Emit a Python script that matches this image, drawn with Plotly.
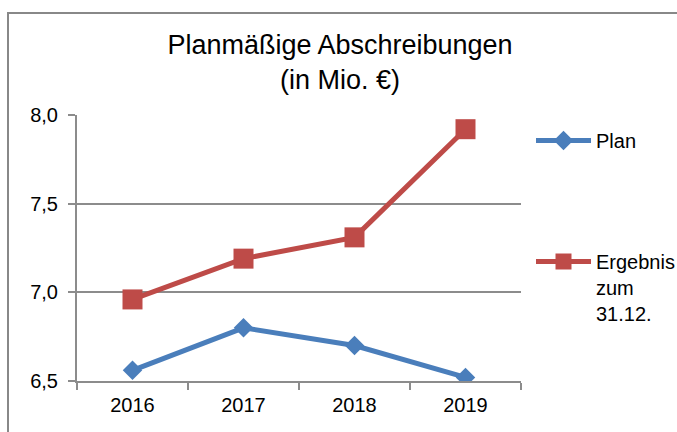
import plotly.graph_objects as go

years = ["2016", "2017", "2018", "2019"]
plan = [6.56, 6.80, 6.70, 6.52]
ergebnis = [6.96, 7.19, 7.31, 7.92]
series_names = ["Plan", "Ergebnis<br>zum<br>31.12."]
y_ticks = [6.5, 7.0, 7.5, 8.0]
title_text = "Planmäßige Abschreibungen<br>(in Mio. €)"

W, H = 677, 432
L, R, T, B = 77, 521, 115, 381
pw, ph = R - L, B - T

def px_x(x):
    return (x - L) / pw

def px_y(y):
    return (B - y) / ph

FONT = "Liberation Sans, Arial, sans-serif"
BLUE = "#4A7EBB"
RED = "#BE4B48"
GRID = "#8C8C8C"

fig = go.Figure()
fig.add_trace(go.Scatter(
    x=years, y=plan, name=series_names[0], mode="lines+markers",
    line=dict(color=BLUE, width=5),
    marker=dict(symbol="diamond", size=15, color=BLUE),
    legend="legend",
))
fig.add_trace(go.Scatter(
    x=years, y=ergebnis, name=series_names[1], mode="lines+markers",
    line=dict(color=RED, width=5),
    marker=dict(symbol="square", size=20, color=RED),
    legend="legend2",
))

fig.update_layout(
    width=W, height=H,
    margin=dict(l=L, r=W - R, t=T, b=H - B, autoexpand=False),
    paper_bgcolor="white", plot_bgcolor="white",
    separators=",.",
    showlegend=True,
    font=dict(family=FONT, size=20, color="black"),
    title=dict(text=title_text, x=340 / W, xanchor="center", xref="container",
               y=1 - 54 / H, yanchor="top", yref="container",
               font=dict(family=FONT, size=27, color="black")),
    xaxis=dict(type="category", range=[-0.5, 3.5], tickson="boundaries",
               ticks="outside", ticklen=7, tickwidth=2, tickcolor=GRID,
               showline=True, linecolor=GRID, linewidth=2,
               showgrid=False, zeroline=False, ticklabelstandoff=5,
               tickfont=dict(family=FONT, size=20, color="black")),
    yaxis=dict(range=[6.5, 8.0], tickvals=y_ticks, tickformat=".1f",
               ticks="outside", ticklen=7, tickwidth=2, tickcolor=GRID,
               showline=True, linecolor=GRID, linewidth=2,
               showgrid=True, gridcolor=GRID, gridwidth=2, zeroline=False,
               ticklabelstandoff=6,
               tickfont=dict(family=FONT, size=20, color="black")),
    legend=dict(x=px_x(531), xanchor="left", y=px_y(121), yanchor="top",
                itemwidth=55, font=dict(family=FONT, size=20, color="black"),
                bgcolor="rgba(0,0,0,0)"),
    legend2=dict(x=px_x(531), xanchor="left", y=px_y(242), yanchor="top",
                 itemwidth=55, valign="top",
                 font=dict(family=FONT, size=20, color="black"),
                 bgcolor="rgba(0,0,0,0)"),
    shapes=[dict(type="rect", xref="paper", yref="paper",
                 x0=px_x(8), x1=px_x(720), y0=px_y(470), y1=px_y(13),
                 line=dict(color="#888888", width=2), fillcolor="rgba(0,0,0,0)",
                 layer="below")],
)

fig.write_html("out.html", config={"displayModeBar": False},
               post_script="document.body.style.margin='0';")
